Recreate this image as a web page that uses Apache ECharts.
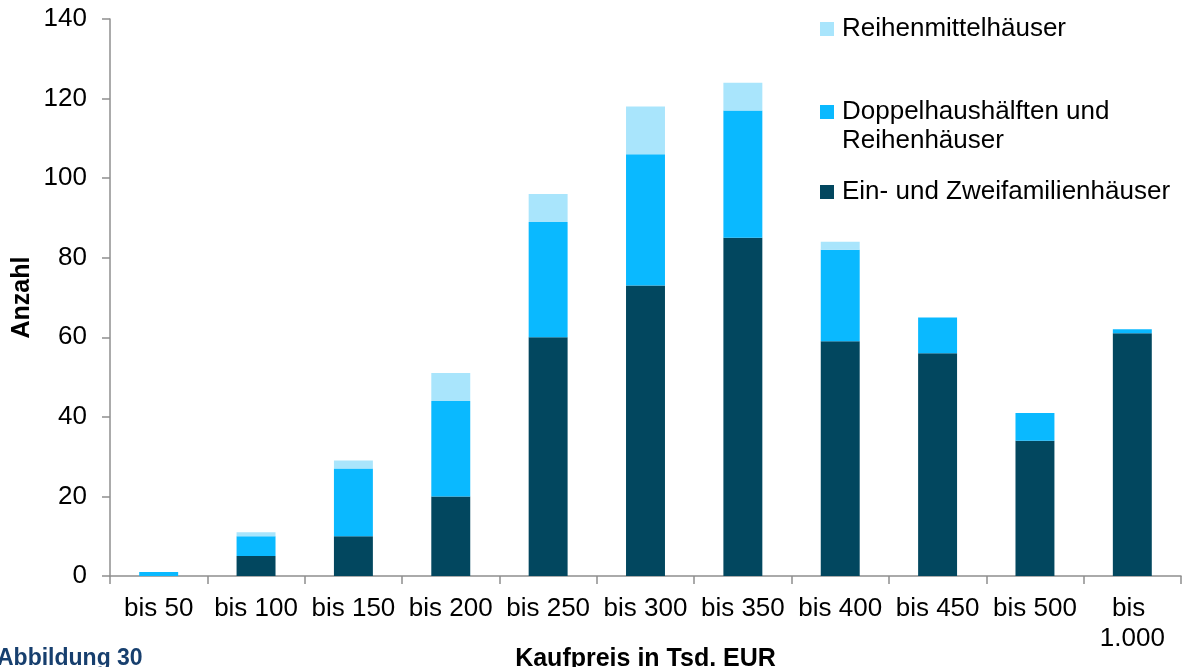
<!DOCTYPE html>
<html>
<head>
<meta charset="utf-8">
<script src="https://cdn.jsdelivr.net/npm/echarts@6/dist/echarts.min.js"></script>
<style>
  html, body { margin: 0; padding: 0; background: #fff; }
  #chart { width: 1182px; height: 667px; }
</style>
</head>
<body>
<div id="chart"></div>
<script>
// Kaufpreisklassen (Tsd. EUR)
const categories = ['bis 50', 'bis 100', 'bis 150', 'bis 200', 'bis 250', 'bis 300',
    'bis 350', 'bis 400', 'bis 450', 'bis 500', 'bis 1.000'];

const einZweifamilien = [0, 5, 10, 20, 60, 73, 85, 59, 56, 34, 61];
const doppelReihen = [1, 5, 17, 24, 29, 33, 32, 23, 9, 7, 1];
const reihenmittel = [0, 1, 2, 7, 7, 12, 7, 2, 0, 0, 0];

const nameEin = 'Ein- und Zweifamilienhäuser';
const nameDoppel = 'Doppelhaushälften und Reihenhäuser';
const nameMittel = 'Reihenmittelhäuser';

const font = 'Liberation Sans, Arial, sans-serif';
const axisGrey = '#8f8f8f';

const chart = echarts.init(document.getElementById('chart'));

function legendAt(name, top, extra) {
    return Object.assign({
        data: [name],
        orient: 'vertical',
        left: 820,
        top: top,
        padding: 0,
        itemWidth: 14,
        itemHeight: 14,
        icon: 'rect',
        selectedMode: false,
        textStyle: {fontFamily: font, fontSize: 26, color: '#000', padding: [0, 0, 0, 3], lineHeight: 30}
    }, extra || {});
}

const option = {
    animation: false,
    textStyle: {fontFamily: font},
    grid: {left: 110, right: 1, top: 19, bottom: 91, outerBoundsMode: 'none'},
    legend: [
        legendAt(nameMittel, 14),
        // zweite Zeile steht unten als graphic
        legendAt(nameDoppel, 97, {
            formatter: function () {
                return 'Doppelhaushälften und';
            }
        }),
        legendAt(nameEin, 177)
    ],
    graphic: [{
        type: 'text',
        left: 842,
        top: 128,
        style: {
            text: 'Reihenhäuser',
            font: '26px ' + font,
            fill: '#000'
        }
    }, {
        type: 'text',
        left: -3,
        top: 647,
        style: {
            text: 'Abbildung 30',
            font: 'bold 23px ' + font,
            fill: '#173f6e'
        }
    }],
    xAxis: {
        type: 'category',
        data: categories,
        name: 'Kaufpreis in Tsd. EUR',
        nameLocation: 'middle',
        nameGap: 71,
        nameMoveOverlap: false,
        nameTextStyle: {fontFamily: font, fontSize: 25, fontWeight: 'bold', color: '#000'},
        axisLine: {lineStyle: {color: axisGrey, width: 1.5}},
        axisTick: {show: true, length: 8, lineStyle: {color: axisGrey, width: 1.5}},
        axisLabel: {
            fontFamily: font, fontSize: 26, color: '#000', margin: 18,
            width: 96, overflow: 'break', lineHeight: 30, interval: 0
        }
    },
    yAxis: {
        type: 'value',
        min: 0,
        max: 140,
        interval: 20,
        name: 'Anzahl',
        nameLocation: 'middle',
        nameGap: 75,
        nameMoveOverlap: false,
        nameRotate: 90,
        nameTextStyle: {fontFamily: font, fontSize: 25, fontWeight: 'bold', color: '#000'},
        axisLine: {show: true, lineStyle: {color: axisGrey, width: 1.5}},
        axisTick: {show: true, length: 8, lineStyle: {color: axisGrey, width: 1.5}},
        splitLine: {show: false},
        axisLabel: {fontFamily: font, fontSize: 26, color: '#000', margin: 23}
    },
    series: [
        {
            name: nameEin, type: 'bar', stack: 'total', data: einZweifamilien,
            barCategoryGap: '60%',
            itemStyle: {color: '#02475f'}
        },
        {
            name: nameDoppel, type: 'bar', stack: 'total', data: doppelReihen,
            itemStyle: {color: '#0ab9ff'}
        },
        {
            name: nameMittel, type: 'bar', stack: 'total', data: reihenmittel,
            itemStyle: {color: '#a9e5fc'}
        }
    ]
};

chart.setOption(option);
</script>
</body>
</html>
